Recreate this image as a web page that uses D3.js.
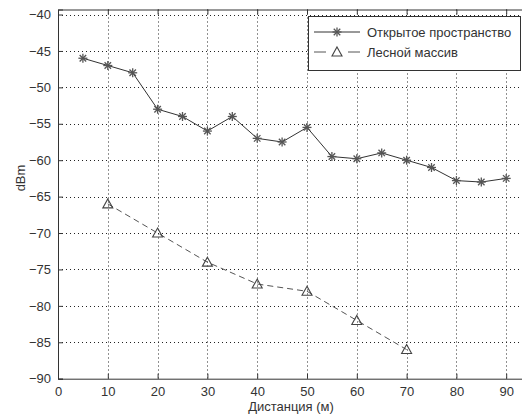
<!DOCTYPE html>
<html><head><meta charset="utf-8">
<script src="https://cdn.jsdelivr.net/npm/d3@7"></script>
<style>
body{margin:0;background:#fff;}
svg{display:block;}
text{font-family:"Liberation Sans",Arial,sans-serif;}
</style></head>
<body>
<svg id="chart" width="522" height="418"></svg>
<script>
const openX = [5,10,15,20,25,30,35,40,45,50,55,60,65,70,75,80,85,90];
const openY = [-46,-47,-48,-53,-54,-56,-54,-57,-57.5,-55.5,-59.5,-59.8,-59,-60,-61,-62.8,-63,-62.5];
const forestX = [10,20,30,40,50,60,70];
const forestY = [-66,-70,-74,-77,-78,-82,-86];
const xTicks = [0,10,20,30,40,50,60,70,80,90];
const yTicks = [-40,-45,-50,-55,-60,-65,-70,-75,-80,-85,-90];
const seriesNames = ["Открытое пространство","Лесной массив"];
const xLabel = "Дистанция (м)";
const yLabel = "dBm";

(function(){
const svg = d3.select("#chart");
const pL = 58, pR = 556, pT = 9.5, pB = 378.7;
const x = d3.scaleLinear().domain([0,100]).range([pL,pR]);
const y = d3.scaleLinear().domain([-90,-39.31]).range([pB,pT]);

// grid
const g = svg.append("g");
g.selectAll(".gx").data(xTicks.filter(d=>d>0)).join("line")
  .attr("x1",d=>Math.round(x(d))+0.5).attr("x2",d=>Math.round(x(d))+0.5)
  .attr("y1",pT).attr("y2",pB)
  .attr("stroke","#222").attr("stroke-width",1).attr("stroke-dasharray","1,3");
g.selectAll(".gy").data(yTicks.filter(d=>d>-90)).join("line")
  .attr("y1",d=>Math.round(y(d))+0.5).attr("y2",d=>Math.round(y(d))+0.5)
  .attr("x1",pL).attr("x2",pR)
  .attr("stroke","#222").attr("stroke-width",1).attr("stroke-dasharray","1,3");

// axes
const xAxisB = d3.axisBottom(x).tickValues(xTicks).tickSize(-5).tickPadding(8).tickFormat(d3.format("d"));
const xAxisT = d3.axisTop(x).tickValues(xTicks).tickSize(-5).tickFormat("");
const yAxisL = d3.axisLeft(y).tickValues(yTicks).tickSize(-5).tickPadding(7).tickFormat(d3.format("d"));
const yAxisR = d3.axisRight(y).tickValues(yTicks).tickSize(-5).tickFormat("");
function style(sel){
  sel.select(".domain").attr("stroke","#333");
  sel.selectAll(".tick line").attr("stroke","#333");
  sel.selectAll("text").attr("fill","#333").attr("font-size","13px")
     .attr("font-family","'Liberation Sans',Arial,sans-serif");
}
svg.append("g").attr("transform",`translate(0,${pB})`).call(xAxisB).call(style);
svg.append("g").attr("transform",`translate(0,${pT})`).call(xAxisT).call(style);
svg.append("g").attr("transform",`translate(${pL},0)`).call(yAxisL).call(style);
svg.append("g").attr("transform",`translate(${pR},0)`).call(yAxisR).call(style);

// labels
svg.append("text").attr("x",291).attr("y",411).attr("text-anchor","middle")
  .attr("font-size","13px").attr("fill","#333").text(xLabel);
svg.append("text").attr("transform","translate(25,178) rotate(-90)").attr("text-anchor","middle")
  .attr("font-size","13px").attr("fill","#333").text(yLabel);

// series
const line = d3.line().x(d=>x(d[0])).y(d=>y(d[1]));
const openData = openX.map((v,i)=>[v,openY[i]]);
const forestData = forestX.map((v,i)=>[v,forestY[i]]);

svg.append("path").datum(forestData).attr("d",line).attr("fill","none")
  .attr("stroke","#555").attr("stroke-width",1).attr("stroke-dasharray","6,4");
svg.append("path").datum(openData).attr("d",line).attr("fill","none")
  .attr("stroke","#333").attr("stroke-width",1);

function star(sel,cx,cy,r){
  const gg = sel.append("g").attr("transform",`translate(${cx},${cy})`)
    .attr("stroke","#555").attr("stroke-width",1.3);
  gg.append("line").attr("x1",-r).attr("x2",r).attr("y1",0).attr("y2",0);
  gg.append("line").attr("x1",0).attr("x2",0).attr("y1",-r).attr("y2",r);
  const k=r*0.72;
  gg.append("line").attr("x1",-k).attr("x2",k).attr("y1",-k).attr("y2",k);
  gg.append("line").attr("x1",-k).attr("x2",k).attr("y1",k).attr("y2",-k);
}
function tri(sel,cx,cy,r){
  sel.append("path").attr("d",`M${cx},${cy-r}L${cx+r},${cy+r*0.8}L${cx-r},${cy+r*0.8}Z`)
    .attr("fill","none").attr("stroke","#444").attr("stroke-width",1.1);
}
const mg = svg.append("g");
openData.forEach(d=>star(mg,x(d[0]),y(d[1]),4.5));
forestData.forEach(d=>tri(mg,x(d[0]),y(d[1]),5));

// legend
const lg = svg.append("g");
lg.append("rect").attr("x",308.5).attr("y",16.5).attr("width",212).attr("height",54)
  .attr("fill","#fff").attr("stroke","#333");
lg.append("line").attr("x1",314).attr("x2",360).attr("y1",32).attr("y2",32).attr("stroke","#333");
star(lg,337,32,4.5);
lg.append("line").attr("x1",314).attr("x2",326).attr("y1",52).attr("y2",52).attr("stroke","#555");
lg.append("line").attr("x1",348).attr("x2",360).attr("y1",52).attr("y2",52).attr("stroke","#555");
tri(lg,337,52,5);
lg.append("text").attr("x",367).attr("y",36.5).attr("font-size","13px").attr("fill","#333").text(seriesNames[0]);
lg.append("text").attr("x",367).attr("y",56.5).attr("font-size","13px").attr("fill","#333").text(seriesNames[1]);
})();
</script>
</body></html>
